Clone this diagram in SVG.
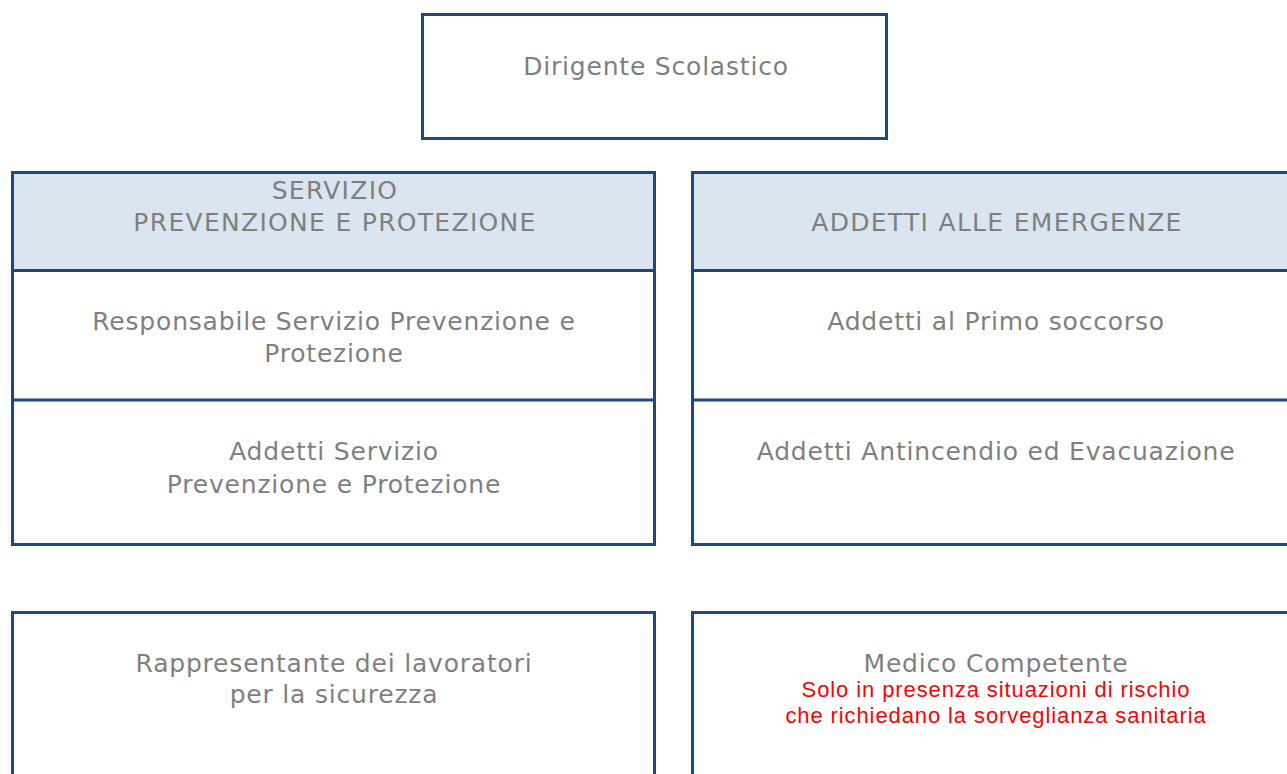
<svg xmlns="http://www.w3.org/2000/svg" width="1287" height="774" viewBox="0 0 1287 774">
<style>
.box{fill:#ffffff;stroke:#1f487c;stroke-width:3}
.hdr{fill:#dbe5f1;stroke:#1f487c;stroke-width:3}
.sep{stroke:#1f487c;stroke-width:3}
.t{font-family:"DejaVu Sans",Verdana,sans-serif;font-size:25px;letter-spacing:0.8px;fill:#7f7f7f;text-anchor:middle}
.u{letter-spacing:1.3px}
.r{font-family:"Liberation Sans",Arial,sans-serif;font-size:22px;letter-spacing:0.9px;fill:#ff0000;text-anchor:middle}
</style>
<rect width="1287" height="774" fill="#ffffff"/>
<g id="connectors"></g>
<g id="dirigente">
<rect class="box" x="422.5" y="14.5" width="464" height="124"/>
<text class="t" x="656" y="75">Dirigente Scolastico</text>
</g>
<g id="spp">
<rect class="box" x="12.5" y="172.5" width="642" height="372"/>
<rect class="hdr" x="12.5" y="172.5" width="642" height="98"/>
<line class="sep" x1="12.5" y1="400" x2="654.5" y2="400"/>
<text class="t u" x="335" y="199">SERVIZIO</text>
<text class="t u" x="335" y="231">PREVENZIONE E PROTEZIONE</text>
<text class="t" x="334" y="330">Responsabile Servizio Prevenzione e</text>
<text class="t" x="334" y="362">Protezione</text>
<text class="t" x="334" y="460">Addetti Servizio</text>
<text class="t" x="334" y="493">Prevenzione e Protezione</text>
</g>
<g id="emergenze">
<rect class="box" x="692.5" y="172.5" width="620" height="372"/>
<rect class="hdr" x="692.5" y="172.5" width="620" height="98"/>
<line class="sep" x1="692.5" y1="400" x2="1312" y2="400"/>
<text class="t u" x="997" y="231">ADDETTI ALLE EMERGENZE</text>
<text class="t" x="996" y="330">Addetti al Primo soccorso</text>
<text class="t" x="996" y="460">Addetti Antincendio ed Evacuazione</text>
</g>
<g id="rls">
<rect class="box" x="12.5" y="612.5" width="642" height="200"/>
<text class="t" x="334" y="672">Rappresentante dei lavoratori</text>
<text class="t" x="334" y="703">per la sicurezza</text>
</g>
<g id="medico">
<rect class="box" x="692.5" y="612.5" width="620" height="200"/>
<text class="t" x="996" y="672">Medico Competente</text>
<text class="r" x="996" y="697">Solo in presenza situazioni di rischio</text>
<text class="r" x="996" y="723">che richiedano la sorveglianza sanitaria</text>
</g>
</svg>
